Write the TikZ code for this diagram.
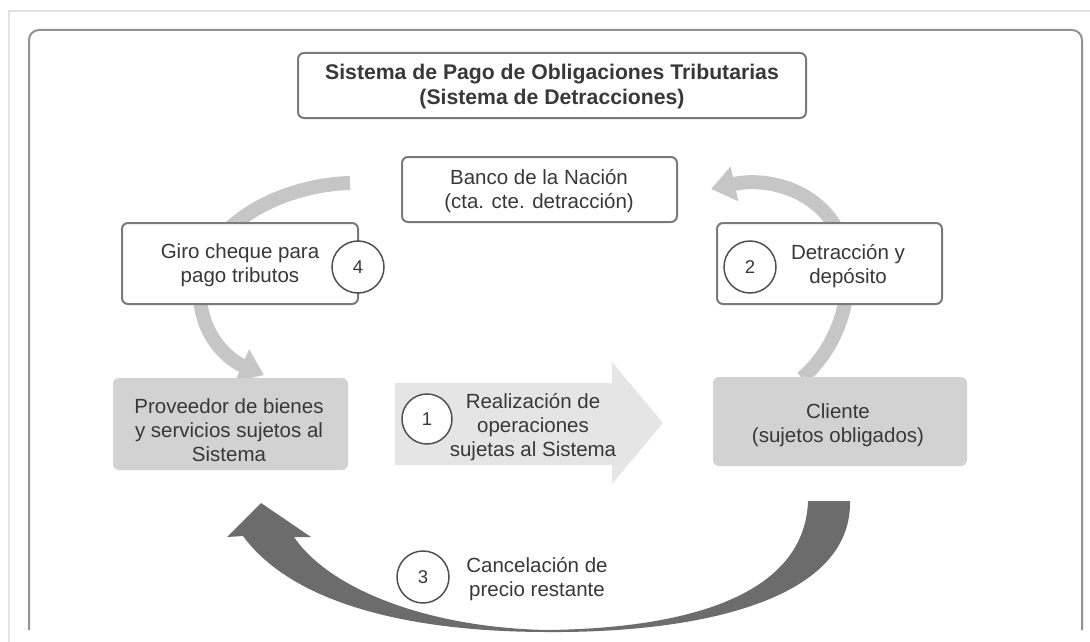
\documentclass[tikz,border=0pt]{standalone}
\usepackage{fontspec}
\setmainfont{Liberation Sans}
\usetikzlibrary{arrows.meta}
\definecolor{boxline}{HTML}{7A7A7A}
\definecolor{txtcol}{HTML}{383838}
\definecolor{circline}{HTML}{505050}
\definecolor{grayfill}{HTML}{D2D2D2}
\definecolor{arrowone}{HTML}{E5E5E5}
\definecolor{arccol}{HTML}{C6C6C6}
\definecolor{arrowthree}{HTML}{6C6C6C}
\definecolor{frameline}{HTML}{929292}
\definecolor{outerline}{HTML}{E2E2E2}
\begin{document}
\begin{tikzpicture}[x=1pt,y=-1pt,
  box/.style={draw=boxline, line width=2pt, fill=white, rounded corners=6pt, inner sep=0pt},
  graybox/.style={fill=grayfill, rounded corners=6pt, inner sep=0pt},
  txt/.style={text=txtcol, align=center, font=\fontsize{20.5}{24}\selectfont, inner sep=0pt},
  titletxt/.style={text=txtcol, align=center, font=\fontsize{21.2}{25}\selectfont\bfseries, inner sep=0pt},
  num/.style={circle, draw=circline, line width=1.5pt, fill=white, minimum size=52pt, inner sep=0pt, text=txtcol, font=\fontsize{18.5}{20}\selectfont},
  arcarrow/.style={draw=arccol, line width=14pt, -{Triangle[length=24pt,width=34pt]}},
]
\useasboundingbox (0,0) rectangle (1090,642);
% outer light frame
\draw[outerline, line width=2.5pt] (9,642) -- (9,11) -- (1090,11);
% inner frame
\draw[frameline, line width=2pt, rounded corners=10pt] (29,630) -- (29,30) -- (1082,30) -- (1082,630);

% curved arrows 4 and 2
\coordinate (a4s) at (350,183);
\coordinate (a4e) at (264,375);
\draw[arcarrow] (a4s) .. controls (280,185) and (205,225) .. (200,285) .. controls (197,330) and (225,358) .. (a4e);
\coordinate (a2s) at (802,378);
\coordinate (a2e) at (711,189);
\draw[arcarrow] (a2s) .. controls (835,350) and (855,300) .. (845,250) .. controls (830,192) and (770,176) .. (a2e);

% title and boxes
\node[box, minimum width=508pt, minimum height=65pt] (title) at (552,85.5) {};
\node[titletxt] (titlet) at (552,87) {Sistema de Pago de Obligaciones Tributarias\\(Sistema de Detracciones)};
\node[box, minimum width=275pt, minimum height=65pt] (banco) at (539.5,189.5) {};
\node[txt] (bancot) at (539,191) {Banco de la Nación\\(cta. cte. detracción)};
\node[box, minimum width=236pt, minimum height=81pt] (giro) at (240,263.5) {};
\node[txt] (girot) at (240,265) {Giro cheque para\\pago tributos};
\node[num] (n4) at (358,267) {4};
\node[box, minimum width=225pt, minimum height=81pt] (det) at (829.5,263.5) {};
\node[txt] (dett) at (848,266) {Detracción y\\depósito};
\node[num] (n2) at (750,267) {2};

% grey boxes
\node[graybox, minimum width=235pt, minimum height=92pt] (prov) at (230.5,424) {};
\node[txt] (provt) at (229,430) {Proveedor de bienes\\y servicios sujetos al\\Sistema};
\node[graybox, minimum width=254pt, minimum height=89pt] (cli) at (840,421.5) {};
\node[txt] (clit) at (838,425) {Cliente\\(sujetos obligados)};

% arrow 1
\fill[arrowone] (395,383) -- (612,383) -- (612,362) -- (663,423) -- (612,484) -- (612,465) -- (395,465) -- cycle;
\node[num, minimum size=50pt] (n1) at (427,419) {1};
\node[txt] (a1t) at (533,427) {Realización de\\operaciones\\sujetas al Sistema};

% arrow 3
\fill[arrowthree] (850,501) .. controls (852,600) and (700,633) .. (548,632)
  .. controls (400,632) and (290,600) .. (243,536)
  -- (227,537) -- (261,503) -- (311,537) -- (294,537)
  .. controls (330,590) and (430,628) .. (548,630)
  .. controls (700,628) and (805,590) .. (808,501) -- cycle;
\node[num] (n3) at (423,577) {3};
\node[txt] (a3t) at (537,579) {Cancelación de\\precio restante};
\end{tikzpicture}
\end{document}
